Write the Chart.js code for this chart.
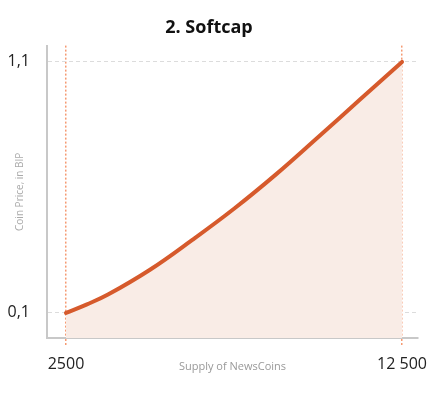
<!DOCTYPE html>
<html>
<head>
<meta charset="utf-8">
<script src="https://cdn.jsdelivr.net/npm/chart.js@4"></script>
<style>
  html, body { margin: 0; padding: 0; background: #fff; }
  #wrap { width: 443px; height: 394px; }
</style>
</head>
<body>
<div id="wrap"><canvas id="softcapChart" width="443" height="394"></canvas></div>
<script>
// supply of coins and price
const supply = [2500, 3125, 3750, 5000, 6250, 7500, 8750, 10000, 11250, 12500];
const price = [0.1, 0.134, 0.173, 0.272, 0.39, 0.515, 0.652, 0.8, 0.95, 1.1];

const xTickValues = [2500, 12500];
const xTickLabels = ['2500', '12 500'];
const yTickValues = [0.1, 1.1];
const yTickLabels = ['0,1', '1,1'];

const lineColor = '#d65a2c';
const fillColor = '#f9ece6';
const axisColor = '#c8c8c8';
const markerColor = '#f59a72';

function initializeChart() {
    const ctx = document.getElementById('softcapChart').getContext('2d');
    new Chart(ctx, {
        type: 'line',
        data: {
            datasets: [{
                label: 'Softcap',
                data: supply.map((s, i) => ({ x: s, y: price[i] })),
                borderColor: lineColor,
                backgroundColor: fillColor,
                borderWidth: 4,
                borderCapStyle: 'round',
                fill: 'origin',
                pointRadius: 0,
                tension: 0.4
            }]
        },
        options: {
            responsive: false,
            animation: false,
            layout: { padding: { left: 0, right: 25, top: 0, bottom: 0 } },
            plugins: {
                legend: { display: false },
                tooltip: { enabled: false },
                title: {
                    display: true,
                    text: '2. Softcap',
                    color: '#111',
                    font: { family: 'Open Sans', size: 18, weight: 'bold', lineHeight: 1.2 },
                    padding: { top: 17, bottom: 7 }
                }
            },
            scales: {
                x: {
                    type: 'linear',
                    min: 1935,
                    max: 12976,
                    afterBuildTicks: scale => { scale.ticks = xTickValues.map(v => ({ value: v })); },
                    afterFit: scale => { scale.height = 56; },
                    ticks: {
                        callback: (value) => xTickLabels[xTickValues.indexOf(value)] || '',
                        color: '#222',
                        font: { family: 'Open Sans', size: 16 },
                        padding: 8,
                        maxRotation: 0
                    },
                    grid: {
                        color: markerColor,
                        lineWidth: 1.5,
                        tickLength: 9,
                        tickColor: markerColor,
                        tickWidth: 1.5,
                        tickBorderDash: [2, 2]
                    },
                    border: { color: axisColor, width: 2, dash: [2, 2] },
                    title: {
                        display: true,
                        text: 'Supply of NewsCoins',
                        color: '#999',
                        font: { family: 'Open Sans', size: 11 },
                        padding: { top: 0, bottom: 21 }
                    }
                },
                y: {
                    min: 0,
                    max: 1.165,
                    afterBuildTicks: scale => { scale.ticks = yTickValues.map(v => ({ value: v })); },
                    afterFit: scale => { scale.width = 47; },
                    ticks: {
                        callback: (value) => yTickLabels[yTickValues.indexOf(value)] || '',
                        color: '#222',
                        font: { family: 'Open Sans', size: 16 },
                        padding: 17
                    },
                    grid: {
                        color: '#dcdcdc',
                        lineWidth: 1,
                        drawTicks: false
                    },
                    border: { color: axisColor, width: 2, dash: [4, 3] },
                    title: {
                        display: true,
                        text: 'Coin Price, in BIP',
                        color: '#aaa',
                        font: { family: 'Open Sans', size: 10 },
                        padding: { top: 14, bottom: 0 }
                    }
                }
            }
        }
    });
}

window.onload = initializeChart;
</script>
</body>
</html>
